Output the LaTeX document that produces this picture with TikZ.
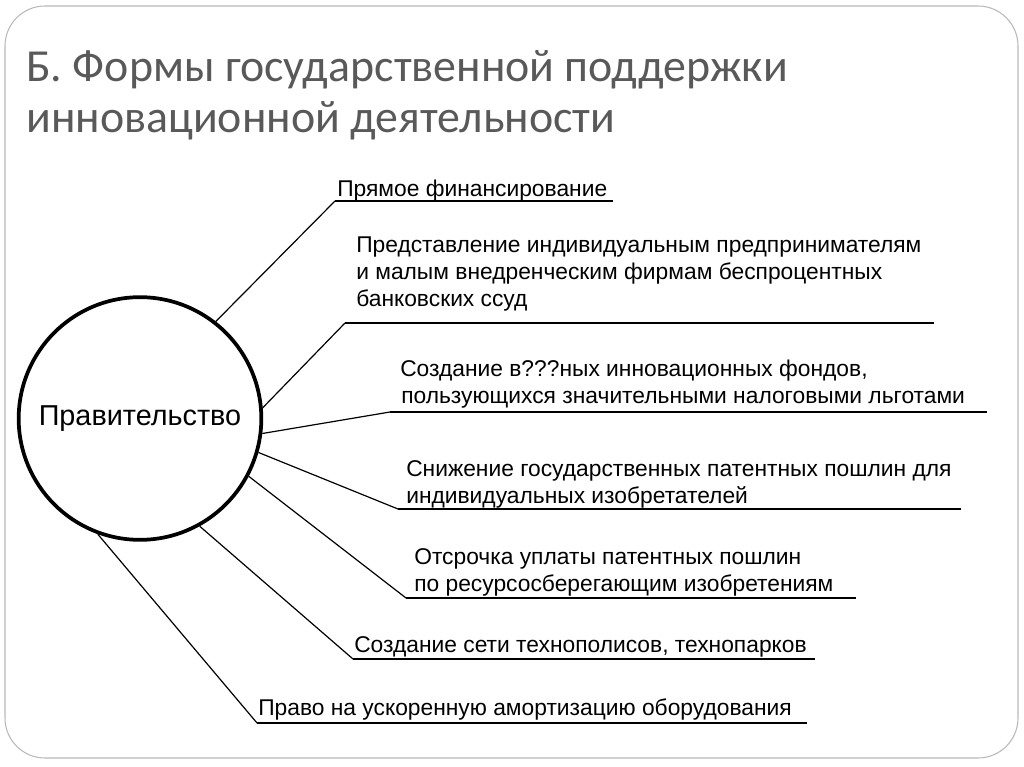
\documentclass[tikz,border=0pt]{standalone}
\usepackage{fontspec}
\setmainfont{Liberation Sans}
\newfontfamily\titlefont{Carlito}
\definecolor{titlegray}{HTML}{595959}
\begin{document}
\begin{tikzpicture}[x=0.75pt,y=-0.75pt,
  conn/.style={line width=0.9pt, black},
  uline/.style={line width=1.2pt, black},
  lbl/.style={anchor=base west, inner sep=0pt, font=\fontsize{17.1}{20.25}\selectfont},
]
\useasboundingbox (0,0) rectangle (1024,767);
\draw[gray!55, line width=0.8pt, rounded corners=30pt] (5,6) rectangle (1018,758);
\node[anchor=base west, inner sep=0pt, text=titlegray, font=\titlefont\fontsize{34.4}{38.25}\selectfont] (title) at (26,82)
  {\vtop{\hbox{Б. Формы государственной поддержки}\hbox{инновационной деятельности}}};
\node[circle, draw, line width=2.8pt, minimum size=182pt, inner sep=0pt,
  font=\fontsize{21.6}{25}\selectfont] (gov) at (140,418.5) {Правительство};

% corners and ends
\coordinate (c1) at (335,201); \coordinate (e1) at (613,201);
\coordinate (c2) at (345,323); \coordinate (e2) at (934,323);
\coordinate (c3) at (390,412); \coordinate (e3) at (987,412);
\coordinate (c4) at (398,509); \coordinate (e4) at (961,509);
\coordinate (c5) at (406,598); \coordinate (e5) at (856,598);
\coordinate (c6) at (353,659); \coordinate (e6) at (815,659);
\coordinate (c7) at (257,723); \coordinate (e7) at (807,723);

\draw[conn] (gov.52.7) -- (c1); \draw[uline] (c1) -- (e1);
\draw[conn] (gov.5.9) -- (c2); \draw[uline] (c2) -- (e2);
\draw[conn] (gov.-7.7) -- (c3); \draw[uline] (c3) -- (e3);
\draw[conn] (gov.-16) -- (c4); \draw[uline] (c4) -- (e4);
\draw[conn] (gov.-28.2) -- (c5); \draw[uline] (c5) -- (e5);
\draw[conn] (gov.-61.7) -- (c6); \draw[uline] (c6) -- (e6);
\draw[conn] (gov.-110) -- (c7); \draw[uline] (c7) -- (e7);

\node[lbl] (t1) at (337,196) {Прямое финансирование};
\node[lbl] (t2) at (356,252) {\vtop{\hbox{Представление индивидуальным предпринимателям}\hbox{и малым внедренческим фирмам беспроцентных}\hbox{банковских ссуд}}};
\node[lbl] (t3) at (400,376) {\vtop{\hbox{Создание в???ных инновационных фондов,}\hbox{\kern0.75pt пользующихся значительными налоговыми льготами}}};
\node[lbl] (t4) at (406,476) {\vtop{\hbox{Снижение государственных патентных пошлин для}\hbox{индивидуальных изобретателей}}};
\node[lbl] (t5) at (414,564) {\vtop{\hbox{Отсрочка уплаты патентных пошлин}\hbox{по ресурсосберегающим изобретениям}}};
\node[lbl] (t6) at (354,652) {Создание сети технополисов, технопарков};
\node[lbl] (t7) at (258,715) {Право на ускоренную амортизацию оборудования};
\end{tikzpicture}
\end{document}
